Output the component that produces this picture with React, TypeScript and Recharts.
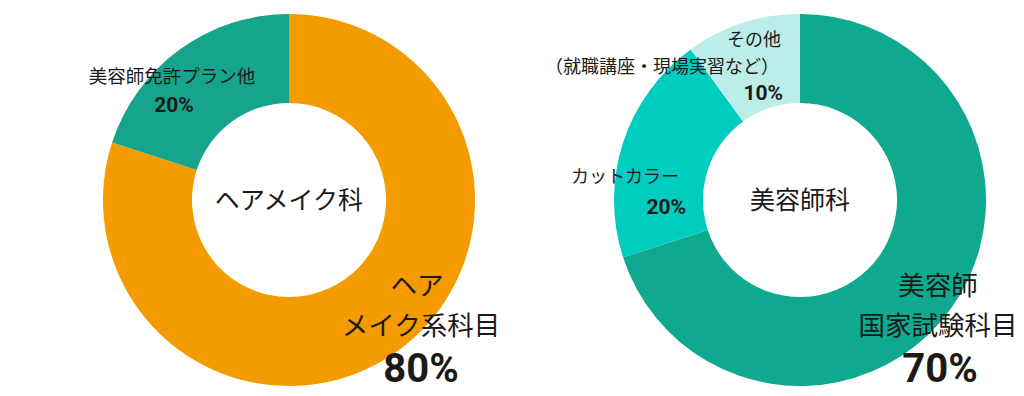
import { PieChart, Pie, Cell } from 'recharts';

const hairNames = ['ヘアメイク系科目', '美容師免許プラン他'];
const hairValues = [80, 20];
const hairColors = ['#F49B00', '#16A58C'];

const beautyNames = ['美容師国家試験科目', 'カットカラー', 'その他'];
const beautyValues = [70, 20, 10];
const beautyColors = ['#0FA98F', '#00CCC0', '#BCEDE8'];

const hairData = hairNames.map((name, i) => ({ name, value: hairValues[i] }));
const beautyData = beautyNames.map((name, i) => ({ name, value: beautyValues[i] }));

const JP = '"Noto Sans CJK JP", "Noto Sans", sans-serif';
const NUM = 'Roboto, "Noto Sans", sans-serif';
const INK = '#1c1a19';

const Txt = ({ x, y, size, anchor = 'middle', bold = false, font = JP, children }: any) => (
    <text
        x={x}
        y={y}
        fontSize={size}
        fontFamily={font}
        fontWeight={bold ? 700 : 400}
        fill={INK}
        textAnchor={anchor}
        dominantBaseline='central'
    >
        {children}
    </text>
);

export default function App() {
    return (
        <div style={{ position: 'fixed', left: 0, top: 0, width: 1024, height: 396, background: '#fff' }}>
            <PieChart width={1024} height={396} margin={{ top: 0, right: 0, bottom: 0, left: 0 }}>
                <Pie
                    data={hairData}
                    dataKey='value'
                    cx={289}
                    cy={200}
                    innerRadius={97}
                    outerRadius={186}
                    startAngle={90}
                    endAngle={-270}
                    stroke='none'
                    isAnimationActive={false}
                >
                    {hairData.map((d, i) => (
                        <Cell key={d.name} fill={hairColors[i]} />
                    ))}
                </Pie>
                <Pie
                    data={beautyData}
                    dataKey='value'
                    cx={800}
                    cy={200}
                    innerRadius={97}
                    outerRadius={186}
                    startAngle={90}
                    endAngle={-270}
                    stroke='none'
                    isAnimationActive={false}
                >
                    {beautyData.map((d, i) => (
                        <Cell key={d.name} fill={beautyColors[i]} />
                    ))}
                </Pie>
            </PieChart>

            {/* labels sit above the slices */}
            <svg width={1024} height={396} style={{ position: 'absolute', left: 0, top: 0, pointerEvents: 'none' }}>
                <Txt x={289} y={198} size={25}>ヘアメイク科</Txt>
                <Txt x={172} y={75} size={18.5}>美容師免許プラン他</Txt>
                <Txt x={174} y={105} size={21} bold font={NUM}>20%</Txt>
                <Txt x={417} y={283} size={26.5}>ヘア</Txt>
                <Txt x={421} y={323} size={26.5}>メイク系科目</Txt>
                <Txt x={421} y={368} size={40} bold font={NUM}>80%</Txt>

                <Txt x={800} y={198} size={25}>美容師科</Txt>
                <Txt x={781} y={38} size={18} anchor='end'>その他</Txt>
                <Txt x={779} y={65} size={18} anchor='end'>（就職講座・現場実習など）</Txt>
                <Txt x={783} y={93} size={21} anchor='end' bold font={NUM}>10%</Txt>
                <Txt x={679} y={175} size={18} anchor='end'>カットカラー</Txt>
                <Txt x={686} y={207} size={21} anchor='end' bold font={NUM}>20%</Txt>
                <Txt x={938} y={283} size={26.5}>美容師</Txt>
                <Txt x={938} y={323} size={26.5}>国家試験科目</Txt>
                <Txt x={940} y={368} size={40} bold font={NUM}>70%</Txt>
            </svg>
        </div>
    );
}
